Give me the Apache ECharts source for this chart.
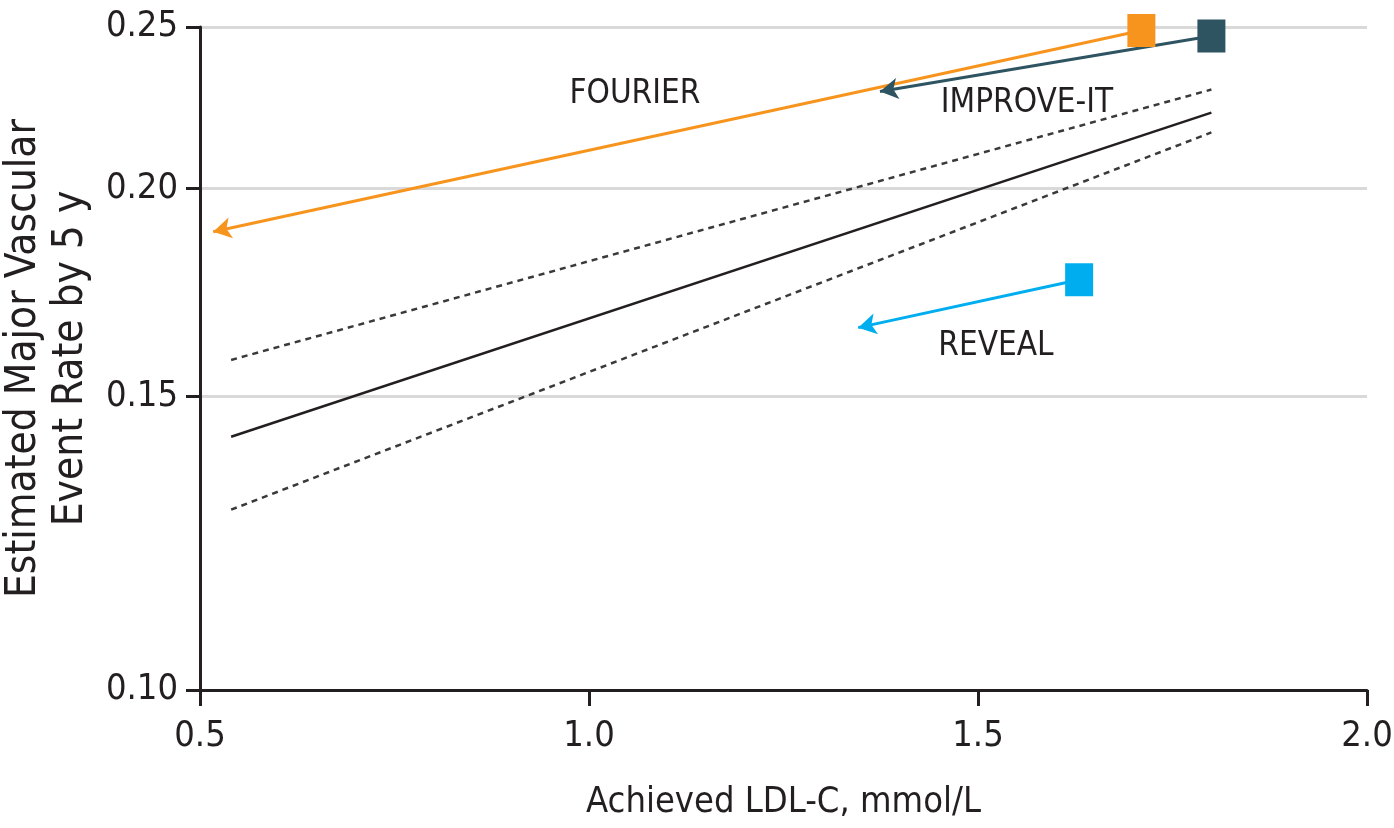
<!DOCTYPE html>
<html>
<head>
<meta charset="utf-8">
<script src="https://cdn.jsdelivr.net/npm/echarts@6/dist/echarts.min.js"></script>
<style>
  html, body { margin: 0; padding: 0; background: #ffffff; }
  #chart { width: 1394px; height: 828px; }
</style>
</head>
<body>
<div id="chart"></div>
<script>
const FONT = "'Liberation Sans Narrow', 'DejaVu Sans Condensed', 'Noto Sans', sans-serif";
const INK = '#231F20';

// Axis ticks
const xTicks = [0.5, 1.0, 1.5, 2.0];
const yTicks = [0.10, 0.15, 0.20, 0.25];

// Regression line and its confidence band (achieved LDL-C vs 5-y event rate)
const fitX = [0.54, 1.80];
const fitMid = [0.1419, 0.2221];
const fitUpper = [0.1578, 0.2293];
const fitLower = [0.1283, 0.2161];

// Trials: control arm (square) -> treatment arm (arrow tip)
const trialNames = ['FOURIER', 'IMPROVE-IT', 'REVEAL'];
const trialColors = ['#F7941D', '#2E5461', '#00AEEF'];
const startLDL = [1.71, 1.80, 1.63];
const startRate = [0.2488, 0.2469, 0.1763];
const endLDL = [0.517, 1.374, 1.346];
const endRate = [0.1884, 0.2287, 0.1650];

// Where each trial name is written
const labelLDL = [1.059, 1.563, 1.523];
const labelRate = [0.2277, 0.2249, 0.1607];

const chart = echarts.init(document.getElementById('chart'), null, { renderer: 'canvas' });

const fitSeries = (vals, dashed) => ({
  type: 'line',
  data: fitX.map((x, i) => [x, vals[i]]),
  symbol: 'none',
  silent: true,
  z: 2,
  lineStyle: dashed
    ? { color: '#3A3A3A', width: 2.5, type: [6, 5] }
    : { color: INK, width: 2.5, type: 'solid' }
});

const series = [
  fitSeries(fitUpper, true),
  fitSeries(fitMid, false),
  fitSeries(fitLower, true)
];

trialNames.forEach((name, i) => {
  // arrow from control to treatment
  series.push({
    type: 'scatter',
    data: [],
    z: 3,
    markLine: {
      silent: true,
      animation: false,
      symbol: ['none', 'arrow'],
      symbolSize: [16, 18],
      label: { show: false },
      lineStyle: { color: trialColors[i], width: 3, type: 'solid', opacity: 1 },
      emphasis: { disabled: true },
      data: [[
        { coord: [startLDL[i], startRate[i]] },
        { coord: [endLDL[i], endRate[i]] }
      ]]
    }
  });
  // control-arm square
  series.push({
    type: 'scatter',
    data: [[startLDL[i], startRate[i]]],
    symbol: 'rect',
    symbolSize: [28, 33],
    z: 5,
    silent: true,
    itemStyle: { color: trialColors[i], opacity: 1 }
  });
});

// trial name labels
series.push({
  type: 'scatter',
  symbolSize: 0,
  silent: true,
  z: 6,
  itemStyle: { opacity: 1 },
  data: trialNames.map((n, i) => ({ name: n, value: [labelLDL[i], labelRate[i]] })),
  label: {
    show: true,
    position: 'inside',
    formatter: p => p.name,
    fontFamily: FONT,
    fontSize: 33,
    color: INK,
    opacity: 1
  }
});

chart.setOption({
  animation: false,
  backgroundColor: '#ffffff',
  grid: { left: 200, right: 27, top: 27, bottom: 138, outerBoundsMode: 'none' },
  xAxis: {
    type: 'value',
    min: 0.5,
    max: 2.0,
    interval: 0.5,
    name: 'Achieved LDL-C, mmol/L',
    nameLocation: 'middle',
    nameGap: 95,
    nameTextStyle: { fontFamily: FONT, fontSize: 36, color: INK },
    axisLine: { show: true, lineStyle: { color: INK, width: 3 } },
    axisTick: { show: true, inside: false, length: 16, lineStyle: { color: INK, width: 3 } },
    axisLabel: {
      margin: 29,
      fontFamily: FONT,
      fontSize: 36,
      color: INK,
      formatter: v => v.toFixed(1)
    },
    splitLine: { show: false }
  },
  yAxis: {
    type: 'log',
    logBase: 10,
    min: 0.10,
    max: 0.25,
    name: 'Estimated Major Vascular\nEvent Rate by 5 y',
    nameLocation: 'middle',
    nameGap: 98,
    nameTextStyle: { fontFamily: FONT, fontSize: 42, lineHeight: 47, color: INK, align: 'center' },
    axisLine: { show: true, lineStyle: { color: INK, width: 3 } },
    axisTick: { show: true, inside: false, length: 14, customValues: yTicks, lineStyle: { color: INK, width: 3 } },
    axisLabel: {
      customValues: yTicks,
      margin: 22,
      fontFamily: FONT,
      fontSize: 36,
      color: INK,
      formatter: v => Number(v).toFixed(2)
    },
    splitLine: { show: true, lineStyle: { color: '#D9D9D9', width: 3 } }
  },
  series: series
});
</script>
</body>
</html>
